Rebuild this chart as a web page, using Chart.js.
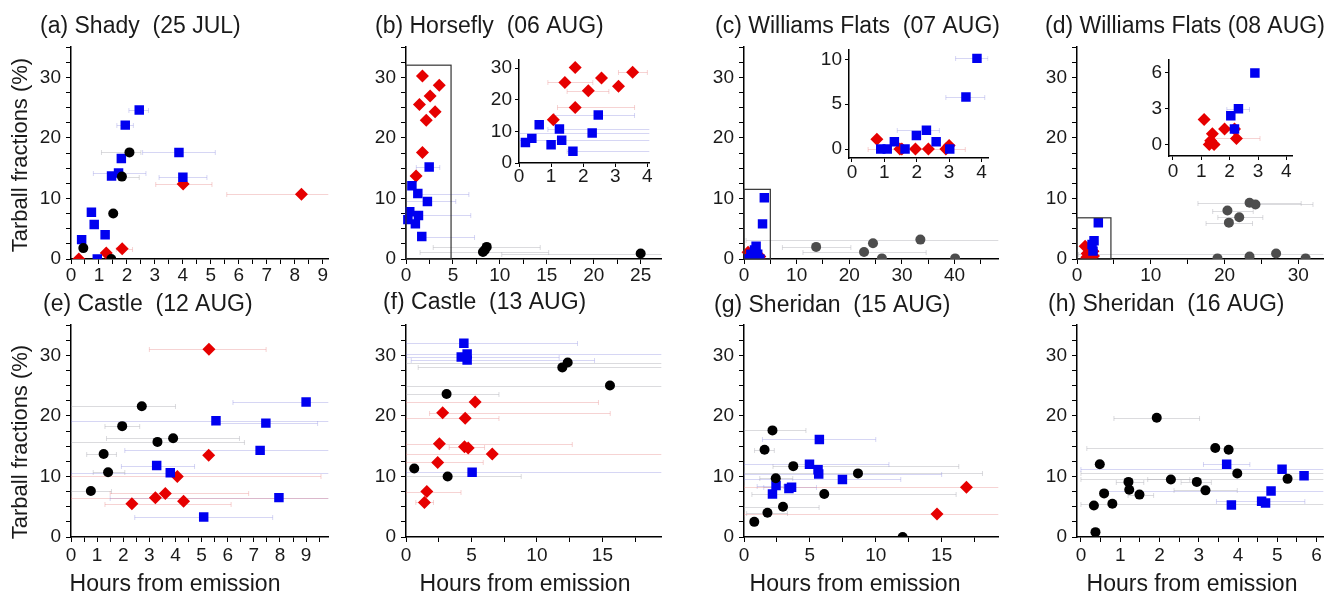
<!DOCTYPE html>
<html><head><meta charset="utf-8">
<script src="https://cdn.jsdelivr.net/npm/chart.js@4/dist/chart.umd.min.js"></script>
<style>
html,body{margin:0;padding:0;background:#fff;width:1330px;height:596px;overflow:hidden;position:relative}
canvas{position:absolute}
</style></head><body>
<script>
// ---------- DATA (x = hours from emission, y = tarball fraction %, lo/hi = x error range) ----------
// (a) Shady 25 JUL
const aBlueX=[0.38,0.73,0.83,0.94,1.22,1.45,1.70,1.80,1.94,2.44,3.86,4.00];
const aBlueY=[3.2,7.7,5.7,0,4.0,13.7,14.2,16.6,22.1,24.6,17.6,13.5];
const aBlueLo=[null,null,null,null,null,null,0.80,null,1.64,2.07,2.56,3.15];
const aBlueHi=[null,null,null,null,null,null,2.68,null,2.23,2.77,5.16,4.86];
const aBlackX=[0.44,1.44,1.51,1.82,2.09];
const aBlackY=[1.8,0,7.5,13.6,17.6];
const aBlackLo=[null,null,null,1.40,1.09];
const aBlackHi=[null,null,null,2.44,2.50];
const aRedX=[0.28,1.26,1.83,4.01,8.24];
const aRedY=[0,1.0,1.7,12.4,10.7];
const aRedLo=[null,null,1.62,3.03,5.57];
const aRedHi=[null,null,2.20,5.04,10.9];
// (b) Horsefly 06 AUG
const bRedX=[1.75,3.54,2.57,1.43,3.10,2.16,1.75,1.07];
const bRedY=[30.2,28.7,26.9,25.5,24.3,22.9,17.6,13.7];
const bRedLo=[null,3.1,null,0.9,null,1.5,1.2,null];
const bRedHi=[null,4.0,null,2.3,null,2.8,3.6,null];
const bBlueX=[0.20,0.40,0.63,1.00,1.26,1.33,1.68,2.28,2.47];
const bBlueY=[6.5,7.8,12.1,5.8,10.8,7.2,3.7,9.5,15.2];
const bBlueLo=[null,null,null,null,0.9,0,1.5,0,1.1];
const bBlueHi=[null,null,null,null,6.7,6.9,7.3,5.3,3.6];
const bBlackX=[8.2,8.4,8.6,25.0];
const bBlackY=[1.15,1.5,2.0,0.9];
const bBlackLo=[1.5,null,2.9,10.2];
const bBlackHi=[15.2,null,14.3,28];
// (c) Williams Flats 07 AUG
const cGrayX=[13.7,22.8,24.5,26.2,33.5,40.1];
const cGrayY=[2.0,1.15,2.6,0.1,3.2,0.1];
const cGrayLo=[7.3,11.2,null,null,0.4,null];
const cGrayHi=[20.3,34.6,null,null,49,null];
const cBlueX=[0.89,1.09,1.31,1.64,1.99,2.30,2.60,3.02,3.52,3.86];
const cBlueY=[0,0,0.8,0,1.5,2.1,0.8,0,5.8,10.1];
const cBlueLo=[null,null,null,null,null,1.4,null,null,2.9,3.2];
const cBlueHi=[null,null,null,null,null,2.7,null,null,4.1,4.2];
const cRedX=[0.77,1.48,1.54,1.96,2.36,2.90,3.00];
const cRedY=[1.1,0,0,0,0,0,0.4];
const cRedLo=[null,null,null,0.5,null,null,null];
const cRedHi=[null,null,null,3.5,null,null,null];
// (d) Williams Flats 08 AUG
const dGrayX=[19.05,20.4,20.6,22.0,23.4,24.2,23.4,27.0,31.0];
const dGrayY=[0.1,8.0,6.0,6.9,9.3,9.0,0.4,0.9,0.1];
const dGrayLo=[null,18.4,17.5,19.1,16.4,23.4,null,0.2,null];
const dGrayHi=[null,23.9,23.8,25.2,30.4,32.0,null,34,null];
const dBlueX=[2.89,2.31,2.04,2.17];
const dBlueY=[6.0,3.0,2.4,1.3];
const dBlueLo=[null,1.9,null,null];
const dBlueHi=[null,2.7,null,null];
const dRedX=[1.10,1.39,1.28,1.45,1.82,2.17,2.24,1.33];
const dRedY=[2.1,0.9,0,0,1.3,1.3,0.5,0.3];
const dRedLo=[null,null,null,null,null,null,1.45,null];
const dRedHi=[null,null,null,null,null,null,3.07,null];
// (e) Castle 12 AUG
const eBlackX=[0.76,1.25,1.42,1.96,2.71,3.31,3.91];
const eBlackY=[7.6,13.7,10.7,18.3,21.6,15.7,16.3];
const eBlackLo=[0,0.6,0.85,1.3,0,0,1.36];
const eBlackHi=[1.55,1.74,2.06,2.63,4.0,6.64,6.45];
const eRedX=[5.28,5.27,4.07,2.33,3.23,3.61,4.31];
const eRedY=[31.0,13.5,10.0,5.5,6.5,7.2,5.9];
const eRedLo=[3.0,null,0,1.3,0,1.5,null];
const eRedHi=[7.47,null,9.57,6.13,10,6.8,null];
const eBlueX=[5.55,7.46,9.00,7.24,3.28,3.80,7.96,5.08];
const eBlueY=[19.2,18.8,22.3,14.3,11.8,10.6,6.5,3.3];
const eBlueLo=[0,5.4,6.2,2.06,1.93,0,1.5,2.44];
const eBlueHi=[10,9.44,10,10,4.73,10,10,7.72];
// (f) Castle 13 AUG
const fBlueX=[4.42,4.22,4.67,4.67,5.05];
const fBlueY=[32.0,29.7,30.2,29.2,10.7];
const fBlueLo=[0,0,0,0.4,0];
const fBlueHi=[13.1,11.7,20,14.4,20];
const fBlackX=[11.94,12.35,15.58,3.10,0.63,3.18];
const fBlackY=[28.0,28.8,25.0,23.6,11.3,10.0];
const fBlackLo=[0.93,0,0,0,null,0];
const fBlackHi=[20,20,20,7.1,null,8.8];
const fRedX=[5.28,2.80,4.52,2.55,4.47,4.75,6.59,2.42,1.59,1.41];
const fRedY=[22.3,20.5,19.6,15.4,14.9,14.7,13.7,12.3,7.5,5.7];
const fRedLo=[0,1.8,0,0,3.3,null,0,0,0,0.75];
const fRedHi=[14.7,15.6,7.1,12.7,6.0,null,20,5.9,4.2,2.1];
// (g) Sheridan 15 AUG
const gBlackX=[0.78,1.78,1.56,2.16,2.41,2.96,3.74,6.09,8.65,12.04];
const gBlackY=[2.5,4.0,14.4,17.6,9.7,5.0,11.7,7.1,10.5,0];
const gBlackLo=[null,0.2,0.8,0,1.2,0,2.2,0.6,0,null];
const gBlackHi=[null,3.3,2.3,4.7,3.7,5.7,16.3,16.1,18.1,null];
const gBlueX=[2.16,2.43,3.41,3.61,4.97,5.62,5.67,5.72,7.47];
const gBlueY=[7.1,8.5,8.0,8.2,12.0,11.1,10.4,16.1,9.5];
const gBlueLo=[null,1.0,null,1.5,0,null,0,1.4,0];
const gBlueHi=[null,3.0,null,5.5,11,null,15,10.0,11.9];
const gRedX=[14.65,16.88];
const gRedY=[3.8,8.2];
const gRedLo=[0,0];
const gRedHi=[20,20];
// (h) Sheridan 16 AUG
const hBlackX=[0.33,0.37,0.48,0.59,0.80,1.21,1.23,1.49,1.93,2.29,2.95,3.17,3.42,3.76,3.98,5.26];
const hBlackY=[5.2,0.8,12.0,7.2,5.5,9.1,7.8,7.0,19.7,9.5,9.1,7.7,14.7,14.4,10.5,9.6];
const hBlackLo=[null,null,null,null,0,0.9,null,1.2,0.84,1.7,2.55,2.37,0.15,null,0,0];
const hBlackHi=[null,null,null,null,6.3,1.6,null,1.85,3.02,2.77,3.32,3.98,6.3,null,6.3,6.3];
const hBlueX=[3.71,3.83,4.60,4.70,4.84,5.12,5.68];
const hBlueY=[12.0,5.3,5.9,5.6,7.6,11.2,10.1];
const hBlueLo=[3.12,null,3.45,null,0.6,0,null];
const hBlueHi=[4.3,null,5.7,null,6.3,6.3,null];
// zoom boxes [x extent, y extent]
const boxB=[4.8,32], boxC=[5.0,11.5], boxD=[4.6,6.8];
// titles
const titles=['(a) Shady  (25 JUL)','(b) Horsefly  (06 AUG)','(c) Williams Flats  (07 AUG)','(d) Williams Flats (08 AUG)',
 '(e) Castle  (12 AUG)','(f) Castle  (13 AUG)','(g) Sheridan  (15 AUG)','(h) Sheridan  (16 AUG)'];
const yTitle='Tarball fractions (%)', xTitle='Hours from emission';

// ---------- RENDERING ----------
const FONT="'Liberation Sans', Arial, sans-serif";
const TXT='#1a1a1a';
const BLUE='#0000f0', RED='#e60000', BLACK='#000000', GRAY='#4d4d4d';
const BAR_K='rgba(160,160,168,0.38)', BAR_B='rgba(120,120,220,0.3)', BAR_R='rgba(230,130,130,0.35)';

function pts(X,Y,L,H){return X.map((x,i)=>({x:x,y:Y[i],lo:L?L[i]:null,hi:H?H[i]:null}));}
function ds(data,kind,bar){
  const st={sq:['rect',6.7,BLUE],di:['rectRot',6.5,RED],ci:['circle',5,BLACK],gc:['circle',5,GRAY]}[kind];
  return {data:data,pointStyle:st[0],pointRadius:st[1],pointHoverRadius:st[1],backgroundColor:st[2],
    borderColor:st[2],borderWidth:0,barColor:bar,showLine:false,clip:{left:10,top:10,right:10,bottom:0}};
}
function isMul(v,m){const r=v/m;return Math.abs(r-Math.round(r))<1e-6;}

const errBars={id:'errBars',beforeDatasetsDraw(chart){
  const ctx=chart.ctx,a=chart.chartArea,x=chart.scales.x,y=chart.scales.y;
  ctx.save();ctx.beginPath();ctx.rect(a.left,a.top,a.right-a.left,a.bottom-a.top);ctx.clip();
  chart.data.datasets.forEach(d=>{
    ctx.strokeStyle=d.barColor;ctx.lineWidth=1;
    d.data.forEach(p=>{
      if(p.lo==null||p.hi==null)return;
      const py=Math.round(y.getPixelForValue(p.y))+0.5;
      const x0=x.getPixelForValue(p.lo),x1=x.getPixelForValue(p.hi);
      ctx.beginPath();ctx.moveTo(x0,py);ctx.lineTo(x1,py);
      ctx.moveTo(x0,py-2.5);ctx.lineTo(x0,py+2.5);ctx.moveTo(x1,py-2.5);ctx.lineTo(x1,py+2.5);
      ctx.stroke();
    });
  });
  ctx.restore();
}};
function boxPlug(b){return {id:'zoomBox',afterDatasetsDraw(chart){
  const ctx=chart.ctx,x=chart.scales.x,y=chart.scales.y;
  const x0=x.getPixelForValue(0),x1=x.getPixelForValue(b[0]),y0=y.getPixelForValue(0),y1=y.getPixelForValue(b[1]);
  ctx.save();ctx.strokeStyle='#333';ctx.lineWidth=1.2;ctx.strokeRect(x0,y1,x1-x0,y0-y1);ctx.restore();
}};}
function textPlug(items){return {id:'panelText',afterDraw(chart){
  const ctx=chart.ctx;ctx.save();ctx.fillStyle=TXT;
  items.forEach(it=>{
    ctx.font=it.s+'px '+FONT;ctx.textBaseline='middle';ctx.textAlign=it.a||'left';
    if(it.r){ctx.save();ctx.translate(it.x,it.y);ctx.rotate(-Math.PI/2);ctx.textAlign='center';ctx.fillText(it.t,0,0);ctx.restore();}
    else ctx.fillText(it.t,it.x,it.y);
  });
  ctx.restore();
}};}

function makeChart(o){
  const c=document.createElement('canvas');
  c.width=o.w;c.height=o.h;c.style.left=o.left+'px';c.style.top=o.top+'px';
  c.style.width=o.w+'px';c.style.height=o.h+'px';
  document.body.appendChild(c);
  const plugins=[errBars,textPlug(o.texts||[])];
  if(o.box)plugins.push(boxPlug(o.box));
  const tl=o.tl;
  const axis=(r,isX)=>({type:'linear',min:r[0],max:r[1],
    border:{display:true,color:'#000',width:1.5},
    grid:{display:true,drawOnChartArea:false,drawTicks:true,tickLength:tl,tickColor:'#000',tickWidth:1},
    ticks:{stepSize:r[2],autoSkip:false,includeBounds:false,maxTicksLimit:1000,maxRotation:0,minRotation:0,
      padding:isX?o.xp:o.yp,color:TXT,font:{family:FONT,size:19},
      callback:v=>isMul(v,r[3])?String(Math.round(v*100)/100):''}});
  const xs=axis(o.x,true);xs.afterFit=s=>{s.height=o.xH;};
  const ys=axis(o.y,false);ys.afterFit=s=>{s.width=o.yW;};
  return new Chart(c,{type:'scatter',data:{datasets:o.sets},plugins:plugins,
    options:{responsive:false,animation:false,events:[],devicePixelRatio:1,
      layout:{padding:{left:0,right:o.pr,top:o.pt,bottom:0}},
      plugins:{legend:{display:false},tooltip:{enabled:false},title:{display:false}},
      scales:{x:xs,y:ys}}});
}

const Y=[0,35,2.5,10];
const ROW1={top:0,h:292,pt:47,xH:33,tl:5,xp:0,yp:5};
const ROW2={top:292,h:304,pt:33,xH:59,tl:5,xp:2,yp:5};
function T(t,x,y,s,r){return {t:t,x:x,y:y,s:s,r:r};}
const TS=23;

// top row
makeChart(Object.assign({},ROW1,{left:0,w:335,pr:5,yW:71,x:[0,9.2,0.5,1],y:Y,
  texts:[T(titles[0],40,27,TS),T(yTitle,21,155,22,true)],
  sets:[ds(pts(aBlackX,aBlackY,aBlackLo,aBlackHi),'ci',BAR_K),ds(pts(aBlueX,aBlueY,aBlueLo,aBlueHi),'sq',BAR_B),ds(pts(aRedX,aRedY,aRedLo,aRedHi),'di',BAR_R)]}));
makeChart(Object.assign({},ROW1,{left:335,w:333,pr:5,yW:71,x:[0,27.2,2.5,5],y:Y,box:boxB,
  texts:[T(titles[1],40,27,TS)],
  sets:[ds(pts(bBlackX,bBlackY,bBlackLo,bBlackHi),'ci',BAR_K),ds(pts(bBlueX,bBlueY,bBlueLo,bBlueHi),'sq',BAR_B),ds(pts(bRedX,bRedY),'di',BAR_R)]}));
makeChart(Object.assign({},ROW1,{left:673,w:332,pr:5,yW:71,x:[0,48.3,5,10],y:Y,box:boxC,
  texts:[T(titles[2],42,27,TS)],
  sets:[ds(pts(cGrayX,cGrayY,cGrayLo,cGrayHi),'gc',BAR_K),ds(pts(cBlueX,cBlueY),'sq',BAR_B),ds(pts(cRedX,cRedY),'di',BAR_R)]}));
makeChart(Object.assign({},ROW1,{left:1006,w:324,pr:0,yW:71,x:[0,33.4,5,10],y:Y,box:boxD,
  texts:[T(titles[3],39,27,TS)],
  sets:[ds(pts(dGrayX,dGrayY,dGrayLo,dGrayHi),'gc',BAR_K),ds(pts(dBlueX,dBlueY),'sq',BAR_B),ds(pts(dRedX,dRedY),'di',BAR_R)]}));
// bottom row
makeChart(Object.assign({},ROW2,{left:0,w:335,pr:5,yW:71,x:[0,9.85,0.5,1],y:Y,
  texts:[T(titles[4],43,13,TS),T(yTitle,21,150,22,true),Object.assign(T(xTitle,175,293,TS),{a:'center'})],
  sets:[ds(pts(eBlackX,eBlackY,eBlackLo,eBlackHi),'ci',BAR_K),ds(pts(eBlueX,eBlueY,eBlueLo,eBlueHi),'sq',BAR_B),ds(pts(eRedX,eRedY,eRedLo,eRedHi),'di',BAR_R)]}));
makeChart(Object.assign({},ROW2,{left:335,w:333,pr:5,yW:71,x:[0,19.5,2.5,5],y:Y,
  texts:[T(titles[5],48,11,TS),Object.assign(T(xTitle,190,293,TS),{a:'center'})],
  sets:[ds(pts(fBlackX,fBlackY,fBlackLo,fBlackHi),'ci',BAR_K),ds(pts(fBlueX,fBlueY,fBlueLo,fBlueHi),'sq',BAR_B),ds(pts(fRedX,fRedY,fRedLo,fRedHi),'di',BAR_R)]}));
makeChart(Object.assign({},ROW2,{left:673,w:332,pr:5,yW:71,x:[0,19.3,2.5,5],y:Y,
  texts:[T(titles[6],41,14,TS),Object.assign(T(xTitle,182,293,TS),{a:'center'})],
  sets:[ds(pts(gBlackX,gBlackY,gBlackLo,gBlackHi),'ci',BAR_K),ds(pts(gBlueX,gBlueY,gBlueLo,gBlueHi),'sq',BAR_B),ds(pts(gRedX,gRedY,gRedLo,gRedHi),'di',BAR_R)]}));
makeChart(Object.assign({},ROW2,{left:1006,w:324,pr:0,yW:71,x:[-0.1,6.17,0.5,1],y:Y,
  texts:[T(titles[7],42,13,TS),Object.assign(T(xTitle,186,293,TS),{a:'center'})],
  sets:[ds(pts(hBlackX,hBlackY,hBlackLo,hBlackHi),'ci',BAR_K),ds(pts(hBlueX,hBlueY,hBlueLo,hBlueHi),'sq',BAR_B)]}));
// insets
const INS={tl:4,xp:-2,yp:3,xH:30,yW:49,pr:5};
makeChart(Object.assign({},INS,{left:470,top:45,w:186,h:148,pt:12,x:[0,4.06,1,1],y:[0,32.8,10,10],
  sets:[ds(pts(bBlueX,bBlueY,bBlueLo,bBlueHi),'sq',BAR_B),ds(pts(bRedX,bRedY,bRedLo,bRedHi),'di',BAR_R)]}));
makeChart(Object.assign({},INS,{left:800,top:35,w:195,h:153,pt:10,xp:-1,x:[-0.09,4.21,1,1],y:[-1.0,11.1,5,5],
  sets:[ds(pts(cBlueX,cBlueY,cBlueLo,cBlueHi),'sq',BAR_B),ds(pts(cRedX,cRedY,cRedLo,cRedHi),'di',BAR_R)]}));
makeChart(Object.assign({},INS,{left:1120,top:45,w:179,h:141,pt:11,xp:0,x:[-0.14,4.21,1,1],y:[-0.97,7.14,3,3],
  sets:[ds(pts(dBlueX,dBlueY,dBlueLo,dBlueHi),'sq',BAR_B),ds(pts(dRedX,dRedY,dRedLo,dRedHi),'di',BAR_R)]}));
</script>
</body></html>
